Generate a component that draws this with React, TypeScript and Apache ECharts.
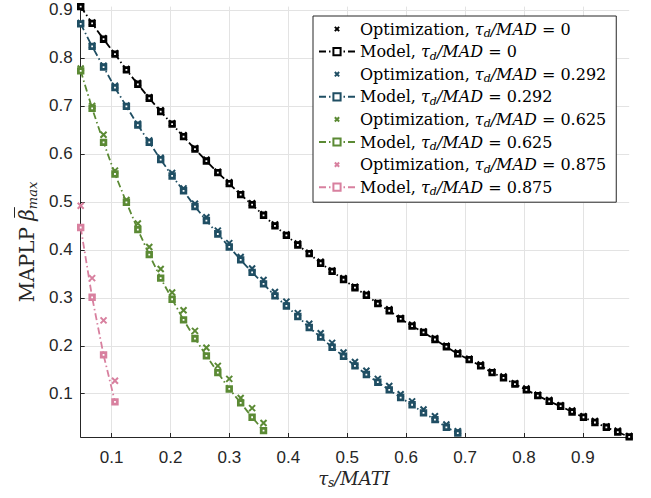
import React, { useEffect, useRef } from 'react';
import * as echarts from 'echarts';

// tau_s / MATI values (shared x grid)
const X = [
  0.0475, 0.0669, 0.0863, 0.1057, 0.1251, 0.1445, 0.1639, 0.1833, 0.2027, 0.2221,
  0.2415, 0.2609, 0.2803, 0.2997, 0.3191, 0.3385, 0.3579, 0.3773, 0.3967, 0.4161,
  0.4355, 0.4549, 0.4743, 0.4937, 0.5131, 0.5325, 0.5519, 0.5713, 0.5907, 0.6101,
  0.6295, 0.6489, 0.6683, 0.6877, 0.7071, 0.7265, 0.7459, 0.7653, 0.7847, 0.8041,
  0.8235, 0.8429, 0.8623, 0.8817, 0.9011, 0.9205, 0.9399, 0.9593, 0.9787,
];

// tau_d/MAD = 0
const OPT_0 = [
  0.907, 0.874, 0.841, 0.810, 0.777, 0.748, 0.718, 0.691, 0.664, 0.639,
  0.612, 0.588, 0.563, 0.541, 0.517, 0.497, 0.474, 0.453, 0.432, 0.413,
  0.394, 0.375, 0.357, 0.341, 0.323, 0.308, 0.290, 0.276, 0.258, 0.244,
  0.230, 0.216, 0.200, 0.186, 0.173, 0.161, 0.146, 0.136, 0.122, 0.111,
  0.098, 0.087, 0.076, 0.065, 0.053, 0.043, 0.032, 0.023, 0.012,
];
const MODEL_0 = [
  0.907, 0.872, 0.839, 0.808, 0.775, 0.745, 0.716, 0.688, 0.662, 0.636,
  0.610, 0.585, 0.561, 0.538, 0.515, 0.494, 0.472, 0.450, 0.430, 0.410,
  0.392, 0.372, 0.355, 0.338, 0.321, 0.305, 0.288, 0.273, 0.256, 0.241,
  0.228, 0.213, 0.198, 0.183, 0.171, 0.158, 0.144, 0.133, 0.120, 0.108,
  0.096, 0.084, 0.074, 0.062, 0.051, 0.040, 0.030, 0.020, 0.010,
];

// tau_d/MAD = 0.292
const OPT_1 = [
  0.873, 0.826, 0.784, 0.742, 0.701, 0.663, 0.628, 0.592, 0.560, 0.528,
  0.496, 0.468, 0.440, 0.414, 0.385, 0.361, 0.337, 0.312, 0.292, 0.268,
  0.246, 0.226, 0.206, 0.186, 0.166, 0.148, 0.131, 0.116, 0.099, 0.084,
  0.067, 0.053, 0.036, 0.022,
];
const MODEL_1 = [
  0.871, 0.824, 0.781, 0.738, 0.699, 0.660, 0.624, 0.588, 0.554, 0.523,
  0.490, 0.461, 0.433, 0.406, 0.379, 0.353, 0.329, 0.304, 0.283, 0.261,
  0.238, 0.218, 0.197, 0.178, 0.158, 0.140, 0.124, 0.108, 0.092, 0.077,
  0.060, 0.046, 0.030, 0.018,
];

// tau_d/MAD = 0.625
const OPT_2 = [
  0.778, 0.700, 0.640, 0.565, 0.504, 0.455, 0.406, 0.360, 0.311, 0.274,
  0.231, 0.196, 0.158, 0.131, 0.091, 0.070, 0.039,
];
const MODEL_2 = [
  0.773, 0.695, 0.624, 0.558, 0.499, 0.442, 0.390, 0.341, 0.297, 0.254,
  0.215, 0.179, 0.144, 0.110, 0.081, 0.051, 0.023,
];

// tau_d/MAD = 0.875
const OPT_3 = [0.492, 0.341, 0.253, 0.127];
const MODEL_3 = [0.4465, 0.301, 0.181, 0.083];

const TD_LABELS = ['0', '0.292', '0.625', '0.875'];
const COLORS = ['#000000', '#1f4e63', '#5b8a34', '#d8809f'];

const CROSS = 'path://M0 0M10 10M2 2L8 8M8 2L2 8';

function measure(text: string, font: string): number {
  const ctx = document.createElement('canvas').getContext('2d');
  if (!ctx) return text.length * 10;
  ctx.font = font;
  return ctx.measureText(text).width;
}

export default function App() {
  const ref = useRef<HTMLDivElement>(null);

  useEffect(() => {
    const chart = echarts.init(ref.current!, null, { renderer: 'svg' });
    const groups = [
      [OPT_0, MODEL_0],
      [OPT_1, MODEL_1],
      [OPT_2, MODEL_2],
      [OPT_3, MODEL_3],
    ];
    const series: any[] = [];
    const names: string[] = [];
    groups.forEach(([opt, model], i) => {
      const c = COLORS[i];
      const optName = `Optimization, τd/MAD = ${TD_LABELS[i]}`;
      const modelName = `Model, τd/MAD = ${TD_LABELS[i]}`;
      names.push(optName, modelName);
      series.push({
        type: 'line',
        name: optName,
        data: opt.map((y, k) => [X[k], y]),
        symbol: CROSS,
        symbolSize: 10,
        showSymbol: true,
        lineStyle: { width: 0, opacity: 0 },
        itemStyle: { color: c, borderColor: c, borderWidth: 2 },
        emphasis: { disabled: true },
        z: 2,
      });
      series.push({
        type: 'line',
        name: modelName,
        data: model.map((y, k) => [X[k], y]),
        symbol: 'rect',
        symbolSize: 4.6,
        showSymbol: true,
        lineStyle: { color: c, width: 1.8, type: [7, 3, 1.5, 3] },
        itemStyle: { color: '#ffffff', borderColor: c, borderWidth: 2.8 },
        emphasis: { disabled: true },
        z: 3,
      });
    });

    const tickFont = { fontFamily: 'Liberation Sans', fontSize: 17, color: '#262626' };

    // y-axis title pieces (rotated group), measured for exact placement
    const fMain = '20px "DejaVu Serif"';
    const fItal = 'italic 20px "DejaVu Serif"';
    const fSub = 'italic 13px "DejaVu Serif"';
    const w1 = measure('MAPLP ', fMain);
    const wb = measure('β', fItal);
    const ws = measure('max', fSub);
    const W = w1 + wb + ws;
    const x0 = -W / 2;
    const yTitle = {
      type: 'group',
      x: 27,
      y: 242,
      rotation: Math.PI / 2,
      children: [
        {
          type: 'text',
          x: x0,
          y: 0,
          style: { text: 'MAPLP ', font: fMain, fill: '#262626', align: 'left', verticalAlign: 'middle' },
        },
        {
          type: 'text',
          x: x0 + w1,
          y: 0,
          style: { text: 'β', font: fItal, fill: '#262626', align: 'left', verticalAlign: 'middle' },
        },
        {
          type: 'line',
          shape: { x1: x0 + w1 + 3, y1: -12.5, x2: x0 + w1 + wb + 2, y2: -12.5 },
          style: { stroke: '#262626', lineWidth: 1 },
        },
        {
          type: 'text',
          x: x0 + w1 + wb,
          y: 5,
          style: { text: 'max', font: fSub, fill: '#262626', align: 'left', verticalAlign: 'middle' },
        },
      ],
    };

    chart.setOption({
      animation: false,
      backgroundColor: '#ffffff',
      grid: { left: 80.7, right: 21.8, top: 6.6, bottom: 61, containLabel: false },
      xAxis: {
        type: 'value',
        min: 0.0475,
        max: 0.9787,
        splitNumber: 9,
        axisLine: { show: true, onZero: false, lineStyle: { color: '#262626', width: 1 } },
        axisTick: { show: true, inside: true, length: 4, lineStyle: { color: '#262626' } },
        axisLabel: { ...tickFont, margin: 12, showMinLabel: false, showMaxLabel: false },
        splitLine: { show: true, showMinLine: false, showMaxLine: false, lineStyle: { color: '#e3e3e3', width: 1 } },
      },
      yAxis: {
        type: 'value',
        min: 0.0098,
        max: 0.907,
        splitNumber: 9,
        axisLine: { show: true, onZero: false, lineStyle: { color: '#262626', width: 1 } },
        axisTick: { show: true, inside: true, length: 4, lineStyle: { color: '#262626' } },
        axisLabel: { ...tickFont, margin: 8, showMinLabel: false, showMaxLabel: false },
        splitLine: { show: true, showMinLine: false, showMaxLine: false, lineStyle: { color: '#e3e3e3', width: 1 } },
      },
      legend: {
        orient: 'vertical',
        left: 313,
        top: 16,
        padding: [5, 10, 5, 5],
        itemGap: 4.6,
        itemWidth: 36,
        itemHeight: 9,
        backgroundColor: '#ffffff',
        borderColor: '#262626',
        borderWidth: 1,
        borderRadius: 0,
        data: names,
        selectedMode: false,
        formatter: (name: string) => {
          const kind = name.split(',')[0];
          const val = name.split('= ')[1];
          return `{r|${kind}, }{m|τ}{s|d}{m|/MAD}{r| = ${val}}`;
        },
        textStyle: {
          fontFamily: 'DejaVu Serif',
          fontSize: 16,
          color: '#000',
          rich: {
            r: { fontFamily: 'DejaVu Serif', fontSize: 16, lineHeight: 20, color: '#000' },
            m: { fontFamily: 'DejaVu Serif', fontStyle: 'italic', fontSize: 16, lineHeight: 20, color: '#000' },
            s: { fontFamily: 'DejaVu Serif', fontStyle: 'italic', fontSize: 11, lineHeight: 11, verticalAlign: 'bottom', color: '#000' },
          },
        },
      },
      graphic: [
        yTitle,
        {
          type: 'text',
          x: 354,
          y: 478,
          style: {
            text: '{m|τ}{s|s}{m|/MATI}',
            align: 'center',
            verticalAlign: 'middle',
            rich: {
              m: { fontFamily: 'DejaVu Serif', fontStyle: 'italic', fontSize: 18, lineHeight: 22, fill: '#262626' },
              s: { fontFamily: 'DejaVu Serif', fontStyle: 'italic', fontSize: 12, lineHeight: 12, verticalAlign: 'bottom', fill: '#262626' },
            },
          },
        },
      ],
      series,
    });

    return () => chart.dispose();
  }, []);

  return (
    <div
      ref={ref}
      style={{ position: 'fixed', left: 0, top: 0, width: 651, height: 498, background: '#fff' }}
    />
  );
}
